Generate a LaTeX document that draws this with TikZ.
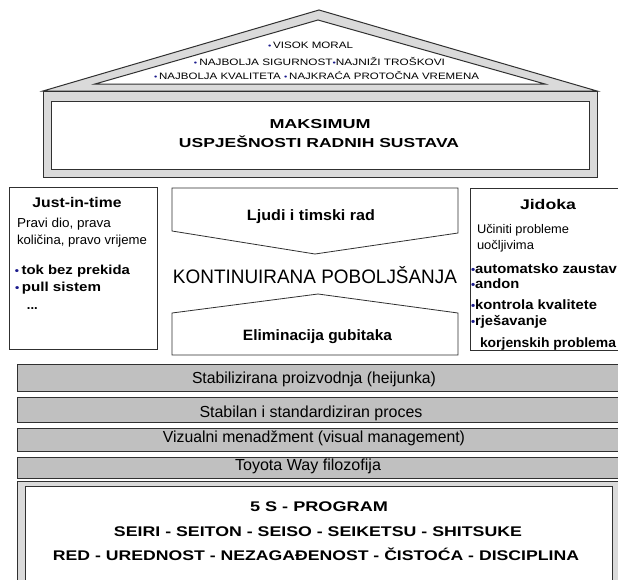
\documentclass[tikz,border=0pt]{standalone}
\usepackage{fontspec}
\setmainfont{Liberation Sans}
\usepackage{graphicx}
\definecolor{band}{HTML}{DADADA}
\definecolor{stripe}{HTML}{C0C0C0}
\definecolor{ln}{HTML}{303030}
\definecolor{bul}{HTML}{1A1A8C}
\newcommand\fitw[2]{\resizebox{#1pt}{\height}{#2}}
\newcommand\bl{{\color{bul}\scalebox{0.8}{•}}}
\newcommand\fs[1]{\fontsize{#1}{#1}\selectfont}
\begin{document}
\begin{tikzpicture}[x=1pt,y=-1pt,
  ol/.style={draw=ln, line width=1pt},
  thin/.style={draw=ln, line width=0.8pt},
  txt/.style={inner sep=0pt, outer sep=0pt, text=black},
  ]
\useasboundingbox (0,0) rectangle (618,579);
\clip (0,0) rectangle (618,579);
\fill[white] (0,0) rectangle (618,579);

% ---------- roof ----------
\coordinate (rl) at (43,91);
\coordinate (ra) at (319,10);
\coordinate (rr) at (597,91);
\coordinate (il) at (95,84);
\coordinate (ia) at (318,20);
\coordinate (ir) at (545,84);
\filldraw[ol, fill=band, line join=miter] (rl) -- (ra) -- (rr) -- cycle;
\filldraw[ol, fill=white] (il) -- (ia) -- (ir) -- cycle;

\node[txt, anchor=base] (r1) at (310.5,48.5) {\fs{9.3}\fitw{85}{\bl\,VISOK MORAL}};
\node[txt, anchor=base] (r2) at (319.5,65) {\fs{9.3}\fitw{251}{\bl\,NAJBOLJA SIGURNOST\bl NAJNIŽI TROŠKOVI}};
\node[txt, anchor=base] (r3) at (316.5,79.5) {\fs{9.3}\fitw{325}{\bl\,NAJBOLJA KVALITETA \bl\,NAJKRAĆA PROTOČNA VREMENA}};

% ---------- maksimum box ----------
\filldraw[ol, fill=band] (43,91) rectangle (597,177);
\filldraw[ol, fill=white] (51,101) rectangle (589,169);
\node[txt, anchor=base] (mx1) at (320,128.5) {\fs{13}\bfseries\fitw{101}{MAKSIMUM}};
\node[txt, anchor=base] (mx2) at (319,147.3) {\fs{13}\bfseries\fitw{280}{USPJEŠNOSTI RADNIH SUSTAVA}};

% ---------- just-in-time ----------
\filldraw[thin, fill=white] (9,187) rectangle (157,349);
\node[txt, anchor=base] (j0) at (77,207.5) {\fs{14}\bfseries\fitw{89}{Just-in-time}};
\node[txt, anchor=base west] (j1) at (17,227) {\fs{13}\fitw{94}{Pravi dio, prava}};
\node[txt, anchor=base west] (j2) at (17,244) {\fs{13}\fitw{130}{količina, pravo vrijeme}};
\node[txt, anchor=base west] (j3) at (15,274) {\fs{13}\bfseries\fitw{115}{\bl\,tok bez prekida}};
\node[txt, anchor=base west] (j4) at (15,291.3) {\fs{13}\bfseries\fitw{86}{\bl\,pull sistem}};
\node[txt, anchor=base west] (j5) at (27,309) {\fs{13}\bfseries ...};

% ---------- middle ----------
\filldraw[thin, fill=white] (172,188) -- (458,188) -- (458,233) -- (315,254) -- (172,231) -- cycle;
\filldraw[thin, fill=white] (172,313) -- (318,294) -- (458,313) -- (458,355) -- (172,355) -- cycle;
\node[txt, anchor=base] (m1) at (311,220) {\fs{15}\bfseries\fitw{128}{Ljudi i timski rad}};
\node[txt, anchor=base] (m2) at (315,283.3) {\fs{19.5}\fitw{284}{KONTINUIRANA POBOLJŠANJA}};
\node[txt, anchor=base] (m3) at (317.5,340) {\fs{15}\bfseries\fitw{149}{Eliminacija gubitaka}};

% ---------- jidoka ----------
\filldraw[thin, fill=white] (470,188) rectangle (640,350);
\node[txt, anchor=base] (k0) at (548,209.3) {\fs{14}\bfseries\fitw{56}{Jidoka}};
\node[txt, anchor=base west] (k1) at (477,233.3) {\fs{12.5}\fitw{92}{Učiniti probleme}};
\node[txt, anchor=base west] (k2) at (477,249) {\fs{12.5}\fitw{57}{uočljivima}};
\node[txt, anchor=base west] (k3) at (471,273.3) {\fs{13.5}\bfseries\fitw{146}{\bl automatsko zaustav}};
\node[txt, anchor=base west] (k4) at (471,288.3) {\fs{13.5}\bfseries\scalebox{1.09}[1]{\bl andon}};
\node[txt, anchor=base west] (k5) at (471,309.3) {\fs{13.5}\bfseries\fitw{126}{\bl kontrola kvalitete}};
\node[txt, anchor=base west] (k6) at (471,325) {\fs{13.5}\bfseries\scalebox{1.09}[1]{\bl rješavanje}};
\node[txt, anchor=base west] (k7) at (480,347.5) {\fs{13.5}\bfseries\fitw{136}{korjenskih problema}};

% ---------- stripes ----------
\filldraw[ol, fill=stripe] (17,364) rectangle (640,391);
\filldraw[ol, fill=stripe] (17,397) rectangle (640,422);
\filldraw[ol, fill=stripe] (17,428) rectangle (640,451);
\filldraw[ol, fill=stripe] (17,457) rectangle (640,478);
\node[txt, anchor=base] (s1) at (314,383.3) {\fs{16}\fitw{244}{Stabilizirana proizvodnja (heijunka)}};
\node[txt, anchor=base] (s2) at (311,417.3) {\fs{16}\fitw{223}{Stabilan i standardiziran proces}};
\node[txt, anchor=base] (s3) at (314,442.5) {\fs{16}\fitw{302}{Vizualni menadžment (visual management)}};
\node[txt, anchor=base] (s4) at (308,470.5) {\fs{16}\fitw{146}{Toyota Way filozofija}};

% ---------- 5S ----------
\filldraw[ol, fill=band] (17,481) rectangle (640,600);
\filldraw[ol, fill=white] (25,486) rectangle (612,600);
\node[txt, anchor=base] (f1) at (319,511.7) {\fs{14}\bfseries\fitw{138}{5 S - PROGRAM}};
\node[txt, anchor=base] (f2) at (318,536) {\fs{14}\bfseries\fitw{408}{SEIRI - SEITON - SEISO - SEIKETSU - SHITSUKE}};
\node[txt, anchor=base] (f3) at (316,560) {\fs{14}\bfseries\fitw{526}{RED - UREDNOST - NEZAGAĐENOST - ČISTOĆA - DISCIPLINA}};
\end{tikzpicture}
\end{document}
